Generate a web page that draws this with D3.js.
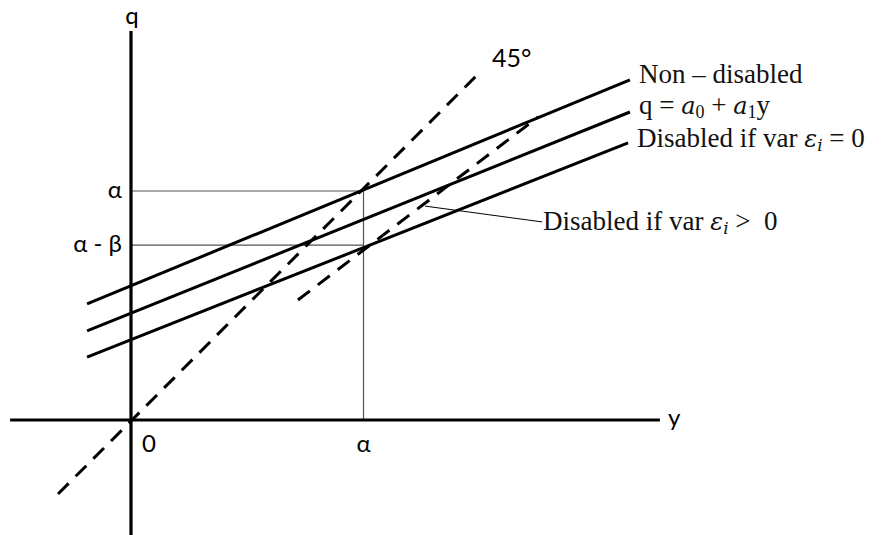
<!DOCTYPE html>
<html>
<head>
<meta charset="utf-8">
<script src="https://cdn.jsdelivr.net/npm/d3@7"></script>
<style>
  html, body { margin: 0; padding: 0; background: #fff; }
  .sansLabel { font-family: Lato, 'Open Sans', sans-serif; font-size: 24px; fill: #000; }
  .serifLabel { font-family: 'Liberation Serif', 'Times New Roman', serif; font-size: 27px; fill: #111; }
  .math { font-family: 'DejaVu Serif', 'Liberation Serif', serif; font-style: italic; font-size: 24px; }
</style>
</head>
<body>
<svg class="svgChart"></svg>
<script>
// size of the picture
const width = 888;
const height = 535;

// values (alpha = 10 units)
const alpha = 10;
const alphaMinusBeta = 7.64;

// axis extents
const xAxisExtent = [-5.2, 22.75];
const yAxisExtent = [-5.02, 16.99];

// solid lines [y, q] end points
const nonDisabled = [[-1.89, 5.07], [21.46, 14.85]];
const meanLine = [[-1.89, 3.89], [21.46, 13.45]];
const disabledZero = [[-1.89, 2.75], [21.38, 12.10]];

// dashed lines
const line45 = [[-3.14, -3.23], [15.10, 15.28]];
const disabledPos = [[7.18, 5.24], [17.51, 13.23]];

// leader line for the "var > 0" label
const leader = [[12.65, 9.34], [17.68, 8.65]];

// tick labels
const xTickValues = [0, alpha];
const xTickLabels = ['0', 'α'];
const yTickValues = [alpha, alphaMinusBeta];
const yTickLabels = ['α', 'α - β'];

/******************SCALES*********************/
const xScale = d3.scaleLinear()
  .domain([0, alpha])
  .range([131, 363.5]);

const yScale = d3.scaleLinear()
  .domain([0, alpha])
  .range([420, 191]);

const line = d3.line()
  .x(d => xScale(d[0]))
  .y(d => yScale(d[1]));

const svg = d3.select('.svgChart')
  .attr('width', width)
  .attr('height', height);

/******************FUNCTIONS*********************/
const drawPath = (pts, w, color, dash) => {
  svg.append('path')
    .attr('d', line(pts))
    .attr('fill', 'none')
    .attr('stroke', color)
    .attr('stroke-width', w)
    .attr('stroke-dasharray', dash || null);
};

// thin guides at alpha and alpha - beta
drawPath([[0, alpha], [alpha, alpha]], 1.2, '#555');
drawPath([[0, alphaMinusBeta], [alpha, alphaMinusBeta]], 1.2, '#555');
drawPath([[alpha, 0], [alpha, alpha]], 1.2, '#555');

// axes
drawPath([[xAxisExtent[0], 0], [xAxisExtent[1], 0]], 3, '#000');
drawPath([[0, yAxisExtent[0]], [0, yAxisExtent[1]]], 3.2, '#000');

// dashed lines
drawPath(line45, 3, '#000', '15,10');
drawPath(disabledPos, 3, '#000', '15,10');

// solid lines
[nonDisabled, meanLine, disabledZero].forEach(l => drawPath(l, 3, '#000'));

drawPath(leader, 1, '#000');

// tick labels on x
svg.selectAll('.xTick')
  .data(xTickValues)
  .enter()
  .append('text')
    .attr('class', 'sansLabel')
    .attr('x', (d, i) => i === 0 ? xScale(d) + 11 : xScale(d))
    .attr('y', yScale(0) + 32)
    .attr('text-anchor', (d, i) => i === 0 ? 'start' : 'middle')
    .text((d, i) => xTickLabels[i]);

// tick labels on q
svg.selectAll('.yTick')
  .data(yTickValues)
  .enter()
  .append('text')
    .attr('class', 'sansLabel')
    .attr('x', xScale(0) - 9)
    .attr('y', d => yScale(d) + 7)
    .attr('text-anchor', 'end')
    .text((d, i) => yTickLabels[i]);

// axis names
svg.append('text')
  .attr('class', 'sansLabel')
  .attr('x', xScale(0) + 1)
  .attr('y', yScale(yAxisExtent[1]) - 7)
  .attr('text-anchor', 'middle')
  .text('q');

svg.append('text')
  .attr('class', 'sansLabel')
  .attr('x', xScale(xAxisExtent[1]) + 8)
  .attr('y', yScale(0) + 6)
  .text('y');

svg.append('text')
  .attr('class', 'sansLabel')
  .style('font-size', '25px')
  .attr('x', xScale(line45[1][0]) + 10)
  .attr('y', yScale(line45[1][1]) - 3)
  .text('45°');

// labels at the right end of the solid lines
const endLabel = (pts, dy) => svg.append('text')
  .attr('class', 'serifLabel')
  .attr('x', xScale(pts[1][0]) + 9)
  .attr('y', yScale(pts[1][1]) + dy);

endLabel(nonDisabled, 3).text('Non – disabled');

let t = endLabel(meanLine, 2);
t.append('tspan').text('q = ');
t.append('tspan').attr('class', 'math').text('a');
t.append('tspan').attr('dy', 4).style('font-size', '18px').text('0');
t.append('tspan').attr('dy', -4).text(' + ');
t.append('tspan').attr('class', 'math').text('a');
t.append('tspan').attr('dy', 4).style('font-size', '18px').text('1');
t.append('tspan').attr('dy', -4).text('y');

const epsLabel = (sel, rel) => {
  sel.append('tspan').text('Disabled if var ');
  sel.append('tspan').attr('class', 'math').text('ε');
  sel.append('tspan').attr('class', 'math').attr('dy', 4).style('font-size', '17px').text('i');
  sel.append('tspan').attr('dy', -4).text(rel);
};

epsLabel(endLabel(disabledZero, 4), '\u00a0=\u00a00');

let t2 = svg.append('text')
  .attr('class', 'serifLabel')
  .attr('x', xScale(leader[1][0]) + 1)
  .attr('y', yScale(leader[1][1]) + 8);
epsLabel(t2, '\u00a0>\u00a0\u00a00');
</script>
</body>
</html>
